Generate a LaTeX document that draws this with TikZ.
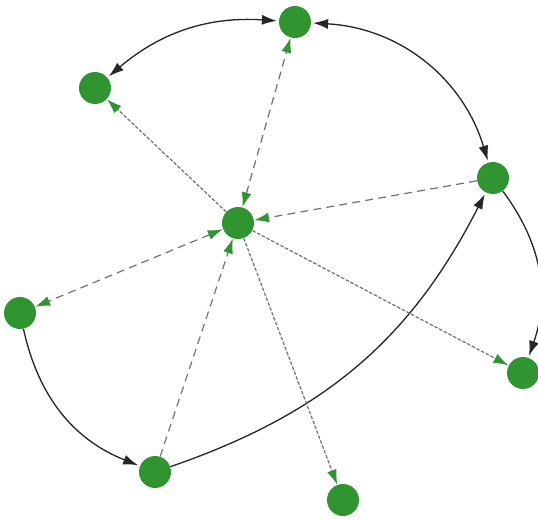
\documentclass[tikz,border=0pt]{standalone}
\usepackage{tikz}
\usetikzlibrary{arrows.meta}
\definecolor{ngreen}{RGB}{48,148,48}

\begin{document}
\begin{tikzpicture}[v/.style={circle, fill=ngreen, minimum size=6.4mm, inner sep=0pt},
	link/.style={line width=0.75pt, black!85, {Latex[length=3mm,width=2mm]}-{Latex[length=3mm,width=2mm]}, shorten <=1pt, shorten >=1pt},
	linkto/.style={line width=0.75pt, black!85, -{Latex[length=3mm,width=2mm]}, shorten >=1pt},
	ray/.style={line width=0.7pt, black!55, dash pattern=on 4.5pt off 3pt, -{Latex[length=3mm,width=2mm,ngreen]}},
	rays/.style={line width=0.7pt, black!55, dash pattern=on 4.5pt off 3pt, {Latex[length=3mm,width=2mm,ngreen]}-{Latex[length=3mm,width=2mm,ngreen]}},
	fray/.style={line width=0.7pt, black!55, dash pattern=on 2pt off 1pt, -{Latex[length=3mm,width=2mm,ngreen]}}]
	\useasboundingbox (0,0) rectangle (10.76,10.38);
	\node[v] (T) at (5.90,9.94) {};
	\node[v] (UL) at (1.90,8.62) {};
	\node[v] (R) at (9.86,6.82) {};
	\node[v] (C) at (4.76,5.92) {};
	\node[v] (L) at (0.40,4.12) {};
	\node[v] (RB) at (10.46,2.92) {};
	\node[v] (BL) at (3.10,0.94) {};
	\node[v] (B) at (6.86,0.38) {};
	\draw[link] (UL) to[bend left=22] (T);
	\draw[link] (T) to[bend left=35] (R);
	\draw[linkto] (R) to[bend left=28] (RB);
	\draw[linkto] (L) to[bend right=28] (BL);
	\draw[linkto] (BL) to[bend right=22] (R);
	\draw[fray] (C) -- (UL);
	\draw[rays] (C) -- (T);
	\draw[ray] (R) -- (C);
	\draw[rays] (C) -- (L);
	\draw[ray] (BL) -- (C);
	\draw[fray] (C) -- (RB);
	\draw[fray] (C) -- (B);
\end{tikzpicture}
\end{document}
